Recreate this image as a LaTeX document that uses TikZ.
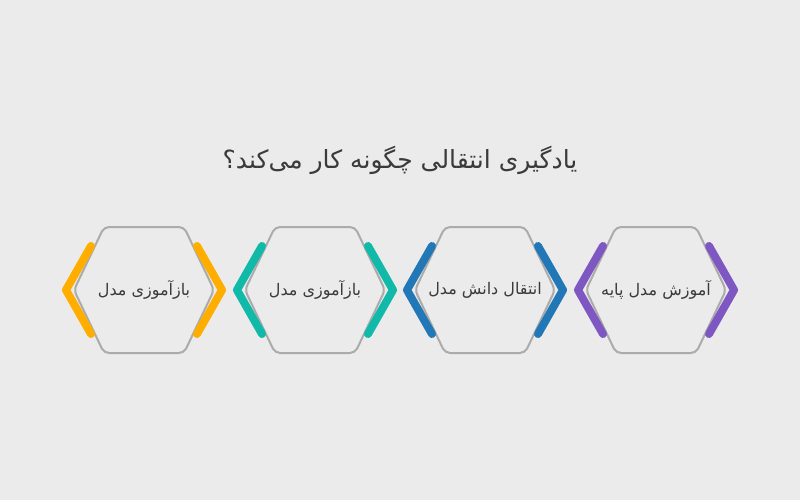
\documentclass[tikz,border=0pt]{standalone}
\usepackage{fontspec}
\TeXXeTstate=1
\newfontfamily\arabicfont[Script=Arabic]{DejaVu Sans}
\usetikzlibrary{calc,positioning}
\definecolor{bgray}{HTML}{EBEBEB}
\definecolor{hexline}{HTML}{ABABAB}
\definecolor{txtgray}{HTML}{3A3A3A}
\definecolor{corange}{HTML}{FFAE00}
\definecolor{cteal}{HTML}{10B9A8}
\definecolor{cblue}{HTML}{2277B6}
\definecolor{cpurple}{HTML}{7E57C2}
\tikzset{
  hexline/.style = {draw=hexline, line width=2pt, rounded corners=5pt},
  celltext/.style = {text=txtgray, font=\arabicfont\fontsize{16}{18}\selectfont},
  chev/.style    = {line width=8pt, line cap=round, line join=round},
  heading/.style = {text=txtgray, font=\arabicfont\fontsize{25}{28}\selectfont}
}
\begin{document}
\begin{tikzpicture}[x=1pt,y=-1pt]
\fill[bgray] (0,0) rectangle (800,500);
\useasboundingbox (0,0) rectangle (800,500);
\node [heading] (title) at (400,160) {\beginR یادگیری انتقالی چگونه کار می‌کند؟\endR};
% cells, right to left
\foreach \name/\cx/\col/\lab in {base/656/cpurple/آموزش مدل پایه,
                                 transfer/485/cblue/انتقال دانش مدل,
                                 retrainA/315/cteal/بازآموزی مدل,
                                 retrainB/144/corange/بازآموزی مدل}{
  \coordinate (\name) at (\cx,290);
  \draw [hexline] ($(\name)+(-40,-63)$) -- ($(\name)+(40,-63)$) -- ($(\name)+(70,0)$)
        -- ($(\name)+(40,63)$) -- ($(\name)+(-40,63)$) -- ($(\name)+(-70,0)$) -- cycle;
  \node [celltext] (\name-lab) at (\name) {\beginR\lab\endR};
  \draw [chev,\col] ($(\name)+(-53,-44)$) -- ($(\name)+(-78,0)$) -- ($(\name)+(-53,44)$);
  \draw [chev,\col] ($(\name)+(53,-44)$) -- ($(\name)+(78,0)$) -- ($(\name)+(53,44)$);
}
\end{tikzpicture}
\end{document}
